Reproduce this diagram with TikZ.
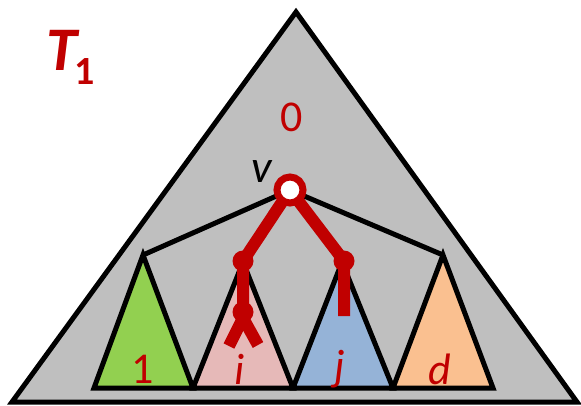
\documentclass[tikz,border=0pt]{standalone}
\usepackage{fontspec}
\setmainfont{Carlito}
\definecolor{tred}{HTML}{C00000}
\definecolor{tgrey}{HTML}{BFBFBF}
\definecolor{tgreen}{HTML}{92D050}
\definecolor{tpink}{HTML}{E6B9B8}
\definecolor{tblue}{HTML}{95B3D7}
\definecolor{torange}{HTML}{FAC090}
\begin{document}
\begin{tikzpicture}[x=1pt,y=-1pt,
  outl/.style={draw=black,line width=5pt,line join=miter},
  blk/.style={draw=black,line width=5pt},
  redl/.style={draw=tred,line width=12pt},
  dot/.style={circle,fill=tred,minimum size=21pt,inner sep=0pt},
  lbl/.style={text=tred,font=\fontsize{40}{40}\selectfont\itshape},
]
\useasboundingbox (0,0) rectangle (581,405);
% big triangle
\path[outl,fill=tgrey] (296,12) -- (12,402) -- (577,402) -- cycle;
% subtrees
\path[outl,fill=tgreen] (143,255) -- (94,388) -- (193,388) -- cycle;
\path[outl,fill=tpink] (243,262) -- (193,388) -- (293,388) -- cycle;
\path[outl,fill=tblue] (342,262) -- (293,388) -- (393,388) -- cycle;
\path[outl,fill=torange] (443,255) -- (393,388) -- (493,388) -- cycle;
% nodes
\coordinate (v) at (290,190);
\coordinate (a) at (143,255);
\coordinate (b) at (443,255);
\node[dot] (p) at (243,261) {};
\node[dot] (q) at (344,261) {};
\node[dot] (p2) at (243,312) {};
\coordinate (qe) at (344,316);
\coordinate (pl) at (229,346);
\coordinate (pr) at (258,345);
\coordinate (py) at (243,318);
\draw[blk,line join=miter] (v) -- (a);
\draw[blk,line join=miter] (v) -- (b);
\draw[redl] (v) -- (p.center) -- (p2.center);
\draw[redl] (v) -- (q.center) -- (qe);
\draw[redl] (py) -- (pl);
\draw[redl] (py) -- (pr);
\node[circle,draw=tred,line width=7pt,fill=white,minimum size=26pt,inner sep=0pt] (vc) at (v) {};
% labels
\node[text=tred,font=\fontsize{62}{62}\selectfont\bfseries\itshape] (T) at (62,50) {T};
\node[text=tred,font=\fontsize{40}{40}\selectfont\bfseries] (T1) at (85,72) {1};
\node[text=tred,font=\fontsize{44}{44}\selectfont] (zero) at (292,117) {0};
\node[font=\fontsize{46}{46}\selectfont\itshape] (vl) at (262,172) {v};
\node[text=tred,font=\fontsize{44}{44}\selectfont] (l1) at (143,369) {1};
\node[lbl,font=\fontsize{44}{44}\selectfont\itshape] (li) at (240,369) {i};
\node[lbl,font=\fontsize{44}{44}\selectfont\itshape] (lj) at (340,369) {j};
\node[lbl,font=\fontsize{44}{44}\selectfont\itshape] (ld) at (440,369) {d};
\end{tikzpicture}
\end{document}
